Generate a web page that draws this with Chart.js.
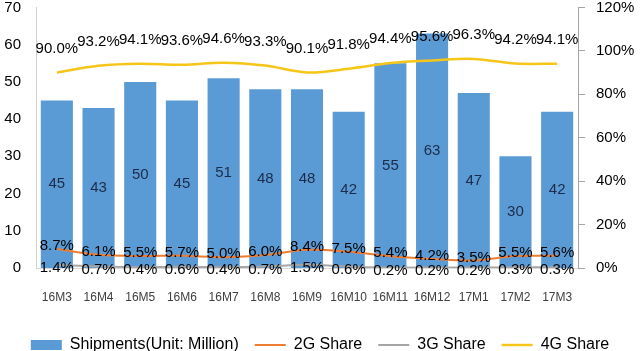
<!DOCTYPE html>
<html lang="en">
<head>
<meta charset="UTF-8">
<title>Shipments and network share</title>
<script src="https://cdn.jsdelivr.net/npm/chart.js@4/dist/chart.umd.min.js"></script>
<style>
  body { margin: 0; background: #fff; }
  #wrap { width: 640px; height: 351px; }
</style>
</head>
<body>
<div id="wrap"><canvas id="chart"></canvas></div>
<script>
var months = ['16M3', '16M4', '16M5', '16M6', '16M7', '16M8', '16M9', '16M10', '16M11', '16M12', '17M1', '17M2', '17M3'];
var shipments = [45, 43, 50, 45, 51, 48, 48, 42, 55, 63, 47, 30, 42];
var share2G = [8.7, 6.1, 5.5, 5.7, 5.0, 6.0, 8.4, 7.5, 5.4, 4.2, 3.5, 5.5, 5.6];
var share3G = [1.4, 0.7, 0.4, 0.6, 0.4, 0.7, 1.5, 0.6, 0.2, 0.2, 0.2, 0.3, 0.3];
var share4G = [90.0, 93.2, 94.1, 93.6, 94.6, 93.3, 90.1, 91.8, 94.4, 95.6, 96.3, 94.2, 94.1];
var leftTicks = [0, 10, 20, 30, 40, 50, 60, 70];
var rightTicks = [0, 20, 40, 60, 80, 100, 120];

var FONT = '"Liberation Sans", Arial, sans-serif';

// draws the value labels on bars and line points
var valueLabels = {
    id: 'valueLabels',
    beforeInit: function (chart) {
        // pull the legend a bit lower, closer to the bottom edge
        var legend = chart.legend;
        var fit = legend.fit;
        legend.fit = function () {
            fit.call(this);
            this.height -= 12;
        };
    },
    afterDatasetsDraw: function (chart) {
        var ctx = chart.ctx;
        ctx.save();
        ctx.textAlign = 'center';
        ctx.textBaseline = 'middle';
        chart.data.datasets.forEach(function (ds, i) {
            var meta = chart.getDatasetMeta(i);
            ctx.font = '15px ' + FONT;
            ctx.fillStyle = ds.labelColor || '#000';
            meta.data.forEach(function (el, j) {
                var v = ds.data[j];
                if (meta.type === 'bar') {
                    ctx.fillText(String(v), el.x, (el.y + el.base) / 2);
                } else {
                    ctx.fillText(v.toFixed(1) + '%', el.x, el.y + (ds.labelOffset || 0));
                }
            });
        });
        ctx.restore();
    }
};

new Chart(document.getElementById('chart'), {
    data: {
        labels: months,
        datasets: [{
            type: 'bar',
            label: 'Shipments(Unit: Million)',
            data: shipments,
            backgroundColor: '#5B9BD5',
            borderWidth: 0,
            barPercentage: 0.77,
            categoryPercentage: 1,
            yAxisID: 'y',
            order: 2,
            pointStyle: 'rect',
            labelColor: '#1c2b4a'
        }, {
            type: 'line',
            label: '2G Share',
            data: share2G,
            borderColor: '#ED7D31',
            backgroundColor: '#ED7D31',
            borderWidth: 2,
            pointRadius: 0,
            tension: 0.35,
            yAxisID: 'y1',
            order: 1,
            pointStyle: 'line',
            labelOffset: -3
        }, {
            type: 'line',
            label: '3G Share',
            data: share3G,
            borderColor: '#A5A5A5',
            backgroundColor: '#A5A5A5',
            borderWidth: 2,
            pointRadius: 0,
            tension: 0.35,
            yAxisID: 'y1',
            order: 1,
            pointStyle: 'line',
            labelOffset: 3
        }, {
            type: 'line',
            label: '4G Share',
            data: share4G,
            borderColor: '#F5C518',
            backgroundColor: '#F5C518',
            borderWidth: 2.5,
            pointRadius: 0,
            tension: 0.35,
            yAxisID: 'y1',
            order: 1,
            pointStyle: 'line',
            labelOffset: -24
        }]
    },
    options: {
        responsive: true,
        maintainAspectRatio: false,
        animation: false,
        layout: { padding: 0 },
        plugins: {
            tooltip: { enabled: false },
            legend: {
                position: 'bottom',
                labels: {
                    usePointStyle: true,
                    pointStyleWidth: 31,
                    boxHeight: 10,
                    padding: 16,
                    color: '#000',
                    font: { family: FONT, size: 16 },
                    sort: function (a, b) { return a.datasetIndex - b.datasetIndex; }
                }
            }
        },
        scales: {
            x: {
                afterFit: function (s) { s.height = 53; },
                grid: { display: false, drawTicks: false },
                border: { display: true, color: '#D9D9D9' },
                ticks: {
                    color: '#404040',
                    padding: 22,
                    maxRotation: 0,
                    autoSkip: false,
                    font: { family: FONT, size: 12 }
                }
            },
            y: {
                position: 'left',
                min: 0,
                max: 70,
                afterBuildTicks: function (s) { s.ticks = leftTicks.map(function (v) { return { value: v }; }); },
                afterFit: function (s) { s.width = 36; },
                grid: { display: false, drawTicks: true, tickLength: 15 },
                border: { display: true, color: '#D0D0D0' },
                ticks: {
                    color: '#000',
                    padding: 0,
                    font: { family: FONT, size: 15, lineHeight: 1 }
                }
            },
            y1: {
                position: 'right',
                min: 0,
                max: 120,
                afterBuildTicks: function (s) { s.ticks = rightTicks.map(function (v) { return { value: v }; }); },
                afterFit: function (s) { s.width = 62; },
                grid: { drawOnChartArea: false, drawTicks: true, tickLength: 18, tickBorderDash: [6, 30], color: '#A6A6A6' },
                border: { display: true, color: '#A6A6A6' },
                ticks: {
                    color: '#000',
                    padding: 0,
                    font: { family: FONT, size: 15, lineHeight: 1 },
                    callback: function (v) { return v + '%'; }
                }
            }
        }
    },
    plugins: [valueLabels]
});
</script>
</body>
</html>
